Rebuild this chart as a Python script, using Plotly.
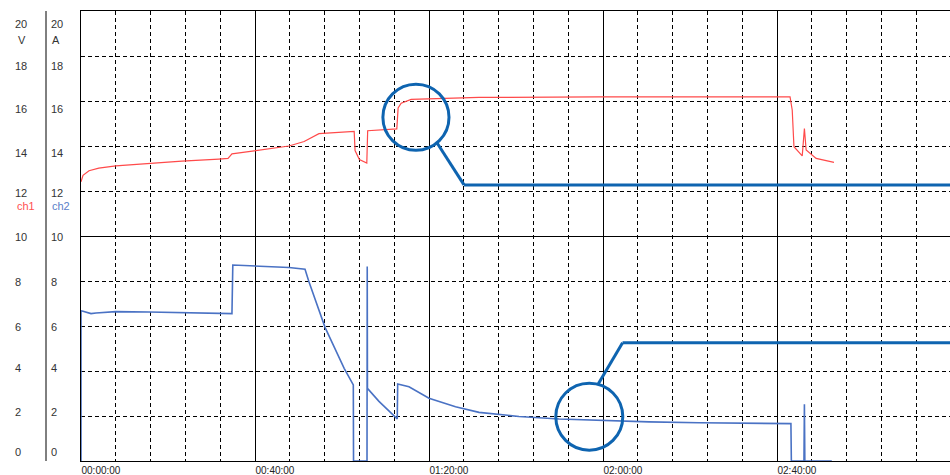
import plotly.graph_objects as go

# ---- data (time in minutes) ----
ch1_t = [0, 0.46, 1.84, 4.1, 8.0, 15.6, 23.2, 31.7, 33.8, 34.7, 40.9, 47.8, 51.3, 54.7, 62.8,
         63.0, 64.0, 65.7, 65.9, 72.6, 72.9, 73.6, 75.9, 82.3, 91.5, 119, 163,
         163.5, 163.9, 165.8, 166.3, 166.7, 169, 173.1]
ch1_v = [12.41, 12.7, 12.9, 13.02, 13.12, 13.24, 13.33, 13.42, 13.45, 13.65, 13.82, 14.0, 14.2, 14.55, 14.65,
         13.8, 13.4, 13.24, 14.68, 14.76, 15.69, 15.9, 16.07, 16.12, 16.16, 16.18, 16.18,
         15.6, 13.97, 13.56, 14.78, 13.82, 13.45, 13.27]

ch2_t = [0, 0, 0.46, 1.38, 2.3, 3.45, 8.0, 15.6, 23.2, 34.7, 34.9, 40.9, 47.8, 51.5, 52.4, 56.1, 60.5,
         62.6, 62.65, 65.75, 65.8, 65.85, 68.5, 72.0, 72.7, 72.8, 75.4, 80.0, 86.1, 91.5,
         100.7, 109.9, 119.1, 130.6, 142.1, 153.6, 163.2, 163.3, 166.2, 166.3, 166.4, 172.6]
ch2_a = [0, 6.68, 6.66, 6.62, 6.55, 6.58, 6.64, 6.62, 6.6, 6.55, 8.71, 8.66, 8.6, 8.52, 7.97, 5.94, 4.12,
         3.38, 0, 0, 8.64, 3.23, 2.65, 1.97, 1.87, 3.42, 3.3, 2.79, 2.41, 2.16,
         1.98, 1.87, 1.8, 1.74, 1.7, 1.67, 1.66, 0, 0, 2.52, 0, 0]

x_tick_vals = [0, 40, 80, 120, 160]
x_tick_text = ["00:00:00", "00:40:00", "01:20:00", "02:00:00", "02:40:00"]
y_label_vals = [20, 18, 16, 14, 12, 10, 8, 6, 4, 2, 0]

# ---- figure ----
W, H = 950, 475
PLOT_LEFT, PLOT_TOP, PLOT_BOTTOM = 81, 11, 461
L, T, R = PLOT_LEFT, PLOT_TOP, 0
B = H - PLOT_BOTTOM
plot_w = W - L - R
plot_h = PLOT_BOTTOM - PLOT_TOP
px_per_min = 174 / 40.0
x_max = plot_w / px_per_min

fig = go.Figure()
fig.add_trace(go.Scatter(x=ch1_t, y=ch1_v, mode="lines",
                         line=dict(color="#ff4a4a", width=1.2), name="ch1"))
fig.add_trace(go.Scatter(x=ch2_t, y=ch2_a, mode="lines",
                         line=dict(color="#4a72c4", width=1.6), name="ch2"))

dash = "4px,3px"
fig.update_xaxes(range=[0, x_max], showgrid=True, gridcolor="black", gridwidth=1,
                 tickvals=x_tick_vals, ticktext=x_tick_text, ticks="",
                 ticklabelposition="outside right", ticklabelstandoff=0,
                 minor=dict(dtick=8, tick0=0, showgrid=True, gridcolor="black", griddash=dash, gridwidth=1),
                 showline=True, linecolor="black", linewidth=1, mirror=True, zeroline=False,
                 tickfont=dict(family="Liberation Sans, Arial", size=10, color="#222"))
fig.update_yaxes(range=[0, 20], showgrid=True, gridcolor="black", gridwidth=1, dtick=10, tick0=0,
                 minor=dict(dtick=2, tick0=0, showgrid=True, gridcolor="black", griddash=dash, gridwidth=1),
                 showline=True, linecolor="black", linewidth=1, mirror=False, zeroline=False,
                 showticklabels=False, ticks="")

# left-side label columns (page pixel centres of each label)
label_font = dict(family="Liberation Sans, Arial", size=11, color="#333")
label_center_px = [24, 66, 109, 153, 193, 237, 282, 327, 368, 412, 452]
annotations = []
for val, cy in zip(y_label_vals, label_center_px):
    grid_px = PLOT_TOP + (20 - val) / 20 * plot_h
    shift = -(cy - grid_px)
    for xs in (-68, -32.5):
        annotations.append(dict(x=0, xref="paper", y=val, yref="y", text=str(val), showarrow=False,
                                xanchor="left", yanchor="middle", xshift=xs, yshift=shift, font=label_font))
annotations.append(dict(x=0, xref="paper", y=20, yref="y", text="V", showarrow=False,
                        xanchor="left", yanchor="middle", xshift=-65, yshift=-(40 - PLOT_TOP), font=label_font))
annotations.append(dict(x=0, xref="paper", y=20, yref="y", text="A", showarrow=False,
                        xanchor="left", yanchor="middle", xshift=-31, yshift=-(40 - PLOT_TOP), font=label_font))
annotations.append(dict(x=0, xref="paper", y=12, yref="y", text="ch1", showarrow=False,
                        xanchor="left", yanchor="middle", xshift=-66, yshift=-15,
                        font=dict(family="Liberation Sans, Arial", size=11, color="#ff5050")))
annotations.append(dict(x=0, xref="paper", y=12, yref="y", text="ch2", showarrow=False,
                        xanchor="left", yanchor="middle", xshift=-31.5, yshift=-15,
                        font=dict(family="Liberation Sans, Arial", size=11, color="#5a80c8")))

# magnifier callouts
mag = "#0e64b0"
shapes = [
    dict(type="line", xref="paper", yref="y", x0=-35 / plot_w, x1=-35 / plot_w, y0=0, y1=20,
         line=dict(color="black", width=1)),
    dict(type="circle", xref="x", yref="y", x0=77.0 - 7.6, x1=77.0 + 7.6, y0=15.28 - 1.47, y1=15.28 + 1.47,
         line=dict(color=mag, width=3)),
    dict(type="line", xref="x", yref="y", x0=81.9, y0=14.12, x1=88.05, y1=12.27, line=dict(color=mag, width=3)),
    dict(type="line", xref="x", yref="y", x0=88.05, y0=12.27, x1=x_max, y1=12.27, line=dict(color=mag, width=3)),
    dict(type="circle", xref="x", yref="y", x0=116.85 - 7.7, x1=116.85 + 7.7, y0=1.97 - 1.49, y1=1.97 + 1.49,
         line=dict(color=mag, width=3)),
    dict(type="line", xref="x", yref="y", x0=118.9, y0=3.42, x1=124.5, y1=5.26, line=dict(color=mag, width=3)),
    dict(type="line", xref="x", yref="y", x0=124.5, y0=5.26, x1=x_max, y1=5.26, line=dict(color=mag, width=3)),
]

fig.update_layout(width=W, height=H, margin=dict(l=L, r=R, t=T, b=B),
                  plot_bgcolor="white", paper_bgcolor="white", showlegend=False,
                  annotations=annotations, shapes=shapes)

fig.write_html("out.html", config={"displayModeBar": False},
               post_script="document.body.style.margin='0';document.body.style.overflow='hidden';")
